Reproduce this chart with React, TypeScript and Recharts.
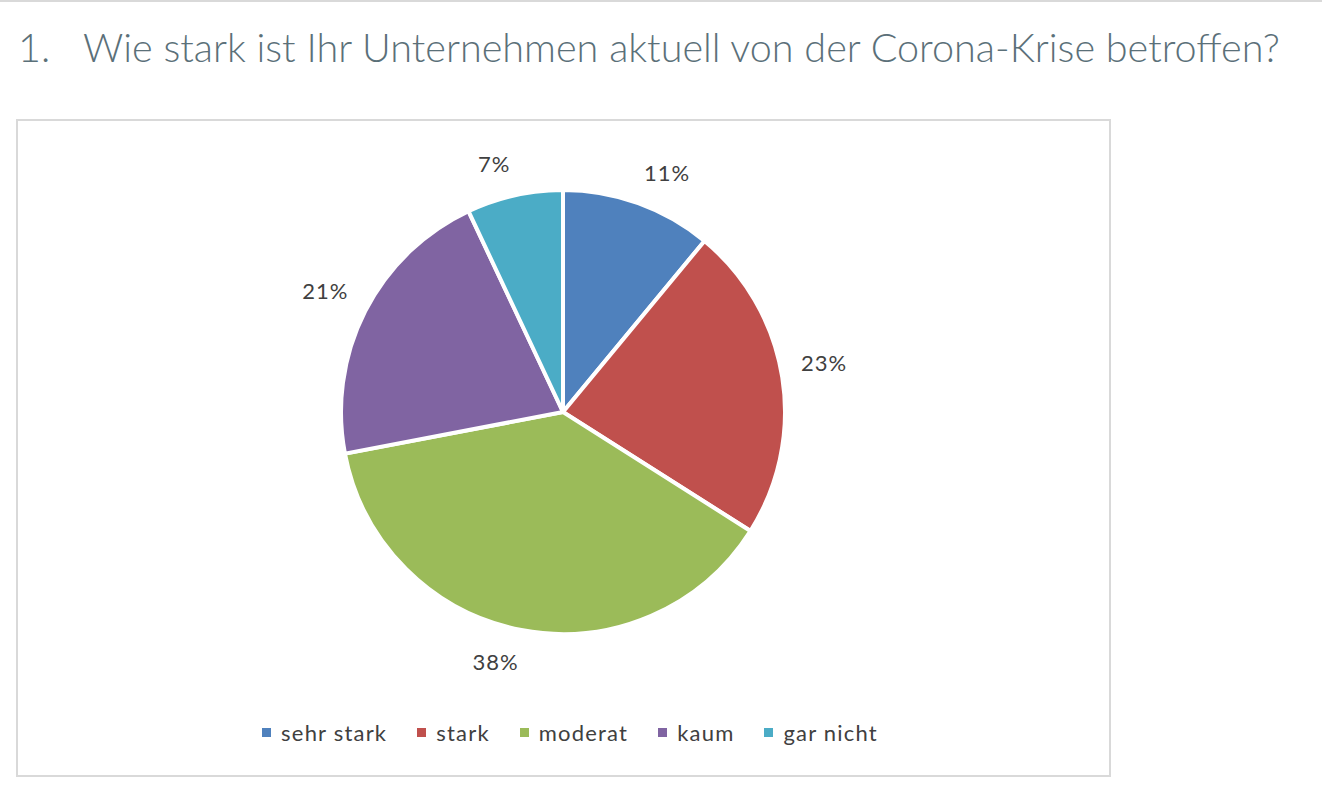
import React from "react";
import { PieChart, Pie, Cell, Legend } from "recharts";

const categories = ["sehr stark", "stark", "moderat", "kaum", "gar nicht"];
const shares = [11, 23, 38, 21, 7];
const colors = ["#4F81BD", "#C0504D", "#9BBB59", "#8064A2", "#4BACC6"];

const data = categories.map((name, i) => ({ name, value: shares[i] }));

const FONT = "Lato, 'Open Sans', sans-serif";
const RAD = Math.PI / 180;

// outside labels placed like Excel's best fit: box corner sits just off the rim
const renderLabel = (props: any) => {
  const { cx, cy, midAngle, outerRadius, value } = props;
  const r = outerRadius + 20;
  const c = Math.cos(-midAngle * RAD);
  const s = Math.sin(-midAngle * RAD);
  const w = String(value).length * 12 + 20;
  const x = cx + r * c + Math.sign(c) * (w / 2);
  const y = cy + r * s + Math.sign(s) * 12;
  return (
    <text
      x={x}
      y={y}
      textAnchor="middle"
      dominantBaseline="central"
      fill="#404040"
      fontSize={22}
      letterSpacing={1}
      fontFamily={FONT}
    >
      {value}%
    </text>
  );
};

const renderLegend = () => (
  <div
    style={{
      display: "flex",
      justifyContent: "center",
      gap: 30,
      fontFamily: FONT,
      lineHeight: "24px",
      paddingLeft: 13,
    }}
  >
    {categories.map((name, i) => (
      <div key={name} style={{ display: "flex", alignItems: "center" }}>
        <span
          style={{ width: 9, height: 9, background: colors[i], display: "inline-block", marginRight: 10 }}
        />
        <span style={{ fontSize: 22, letterSpacing: 1.2, color: "#404040" }}>{name}</span>
      </div>
    ))}
  </div>
);

export default function App() {
  const titleStyle: React.CSSProperties = {
    position: "absolute",
    top: 27,
    fontFamily: FONT,
    fontWeight: 300,
    fontSize: 39.6,
    lineHeight: "40px",
    color: "#5b7079",
    whiteSpace: "nowrap",
  };
  return (
    <div style={{ position: "absolute", left: 0, top: 0, width: 1322, height: 805, background: "#fff" }}>
      <div style={{ position: "absolute", left: 0, top: 0, width: 1322, height: 2, background: "#d9d9d9" }} />
      <div style={{ ...titleStyle, left: 18 }}>1.</div>
      <div style={{ ...titleStyle, left: 83 }}>
        Wie stark ist Ihr Unternehmen aktuell von der Corona-Krise betroffen?
      </div>
      <div
        style={{
          position: "absolute",
          left: 16,
          top: 119,
          width: 1095,
          height: 658,
          border: "2px solid #d9d9d9",
          boxSizing: "border-box",
        }}
      >
        <PieChart width={1091} height={654}>
          <Pie
            data={data}
            dataKey="value"
            nameKey="name"
            cx={540}
            cy={286}
            outerRadius={222}
            startAngle={90}
            endAngle={-270}
            stroke="#ffffff"
            strokeWidth={4}
            label={renderLabel}
            labelLine={false}
            isAnimationActive={false}
          >
            {data.map((d, i) => (
              <Cell key={d.name} fill={colors[i]} />
            ))}
          </Pie>
          <Legend verticalAlign="bottom" content={renderLegend} wrapperStyle={{ bottom: 30.5 }} />
        </PieChart>
      </div>
    </div>
  );
}
